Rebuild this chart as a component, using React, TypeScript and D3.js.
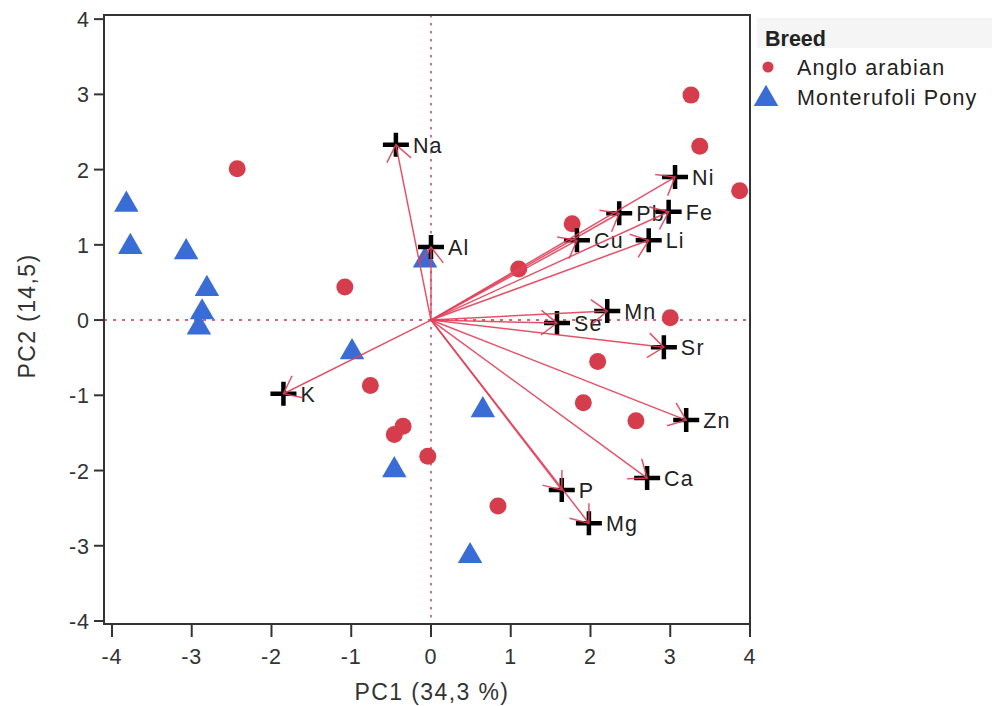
import React from 'react';
import * as d3 from 'd3';

// scores, PC1 / PC2
const angloArabian: [number, number][] = [
  [-2.43, 2.01], [3.26, 2.99], [3.37, 2.31], [3.87, 1.72], [1.77, 1.28], [1.1, 0.68],
  [-1.08, 0.44], [3.0, 0.03], [2.09, -0.55], [1.91, -1.1], [2.57, -1.34], [-0.76, -0.87],
  [-0.35, -1.41], [-0.46, -1.52], [-0.04, -1.81], [0.84, -2.47],
];
const monterufoliPony: [number, number][] = [
  [-3.82, 1.56], [-3.77, 1.0], [-3.07, 0.93], [-2.81, 0.44], [-2.87, 0.13], [-2.91, -0.07],
  [-0.075, 0.82], [-0.99, -0.4], [0.65, -1.17], [-0.46, -1.97], [0.49, -3.11],
];
// loadings
const elements = ['Na', 'Al', 'Ni', 'Pb', 'Fe', 'Cu', 'Li', 'Mn', 'Se', 'Sr', 'Zn', 'Ca', 'P', 'Mg', 'K'];
const loadPC1 = [-0.44, 0.0, 3.06, 2.36, 2.98, 1.83, 2.73, 2.21, 1.58, 2.92, 3.2, 2.71, 1.64, 1.98, -1.85];
const loadPC2 = [2.33, 0.97, 1.9, 1.42, 1.44, 1.06, 1.06, 0.12, -0.04, -0.36, -1.33, -2.1, -2.26, -2.7, -0.98];
const xTicks = [-4, -3, -2, -1, 0, 1, 2, 3, 4];
const yTicks = [-4, -3, -2, -1, 0, 1, 2, 3, 4];

const RED = '#d53d4c';
const BLUE = '#3a6cd6';
const ARROW = '#e2405a';
const FONT = "'Liberation Sans', Arial, sans-serif";

export default function App() {
  const width = 992;
  const height = 706;
  const left = 104, right = 750, top = 15, bottom = 624;

  const x = d3.scaleLinear().domain([-4.1, 4]).range([left, right]);
  const y = d3.scaleLinear().domain([-4.04, 4.055]).range([bottom, top]);

  const tri = d3.symbol().type(d3.symbolTriangle).size(260)();
  const loadings = elements.map((name, i) => ({ name, pc1: loadPC1[i], pc2: loadPC2[i] }));

  const arrowHead = (x1: number, y1: number) => {
    const x0 = x(0), y0 = y(0);
    const ang = Math.atan2(y0 - y1, x0 - x1);
    const len = 20, spread = (38 * Math.PI) / 180;
    const a = [x1 + len * Math.cos(ang + spread), y1 + len * Math.sin(ang + spread)];
    const b = [x1 + len * Math.cos(ang - spread), y1 + len * Math.sin(ang - spread)];
    return `M${a[0]},${a[1]}L${x1},${y1}L${b[0]},${b[1]}`;
  };

  return (
    <div style={{ position: 'absolute', left: 0, top: 0, background: '#fff' }}>
      <svg width={width} height={height} style={{ display: 'block', fontFamily: FONT }}>
        <rect width={width} height={height} fill='#fff' />

        {/* reference lines */}
        <line x1={x(0)} x2={x(0)} y1={top} y2={bottom} stroke='#a8507c' strokeWidth={1.5} strokeDasharray='2.5,5.5' />
        <line x1={left} x2={right} y1={y(0)} y2={y(0)} stroke='#cc3344' strokeWidth={1.5} strokeDasharray='3,6' />

        {/* scores */}
        {angloArabian.map((d, i) => (
          <circle key={'a' + i} cx={x(d[0])} cy={y(d[1])} r={8.5} fill={RED} />
        ))}
        {monterufoliPony.map((d, i) => (
          <path key={'m' + i} d={tri as string} transform={`translate(${x(d[0])},${y(d[1]) + 2})`} fill={BLUE} />
        ))}

        {/* labels */}
        {loadings.map((d) => (
          <text key={'t' + d.name} x={x(d.pc1) + 17} y={y(d.pc2) + 8} fontSize={21.5} letterSpacing={1.2} fill='#222'>
            {d.name}
          </text>
        ))}

        {/* crosses */}
        {loadings.map((d) => (
          <path
            key={'c' + d.name}
            d={`M${x(d.pc1) - 13},${y(d.pc2)}H${x(d.pc1) + 13}M${x(d.pc1)},${y(d.pc2) - 12}V${y(d.pc2) + 12}`}
            stroke='#000'
            strokeWidth={4.5}
          />
        ))}

        {/* arrows */}
        {loadings.map((d) => (
          <g key={'v' + d.name} stroke={ARROW} strokeWidth={1.5} fill='none' opacity={0.9}>
            <line x1={x(0)} y1={y(0)} x2={x(d.pc1)} y2={y(d.pc2)} />
            <path d={arrowHead(x(d.pc1), y(d.pc2))} />
          </g>
        ))}

        {/* frame */}
        <rect x={left} y={top} width={right - left} height={bottom - top} fill='none' stroke='#333' strokeWidth={2} />

        {/* x axis */}
        {xTicks.map((t) => (
          <g key={'xt' + t}>
            <line x1={x(t)} x2={x(t)} y1={bottom} y2={bottom + 13} stroke='#333' strokeWidth={2} />
            <text x={x(t)} y={bottom + 40} textAnchor='middle' fontSize={21.5} letterSpacing={1} fill='#333'>
              {t}
            </text>
          </g>
        ))}
        {/* y axis */}
        {yTicks.map((t) => (
          <g key={'yt' + t}>
            <line x1={left - 10} x2={left} y1={y(t)} y2={y(t)} stroke='#333' strokeWidth={2} />
            <text x={left - 14} y={y(t) + 8} textAnchor='end' fontSize={21.5} letterSpacing={1} fill='#333'>
              {t}
            </text>
          </g>
        ))}

        <text x={432} y={700} textAnchor='middle' fontSize={23} letterSpacing={1.4} fill='#333'>
          PC1  (34,3 %)
        </text>
        <text
          transform={`translate(35,316) rotate(-90)`}
          textAnchor='middle'
          fontSize={23}
          letterSpacing={1.4}
          fill='#333'
        >
          PC2 (14,5)
        </text>

        {/* legend */}
        <rect x={757} y={18} width={235} height={30} fill='#f5f5f5' />
        <text x={765} y={46} fontSize={21.5} fontWeight='bold' fill='#222'>
          Breed
        </text>
        <circle cx={768} cy={67} r={5.5} fill={RED} />
        <text x={797} y={75} fontSize={21.5} letterSpacing={1.2} fill='#222'>
          Anglo arabian
        </text>
        <path d={tri as string} transform='translate(766,99)' fill={BLUE} />
        <text x={797} y={105} fontSize={21.5} letterSpacing={1.2} fill='#222'>
          Monterufoli Pony
        </text>
      </svg>
    </div>
  );
}
